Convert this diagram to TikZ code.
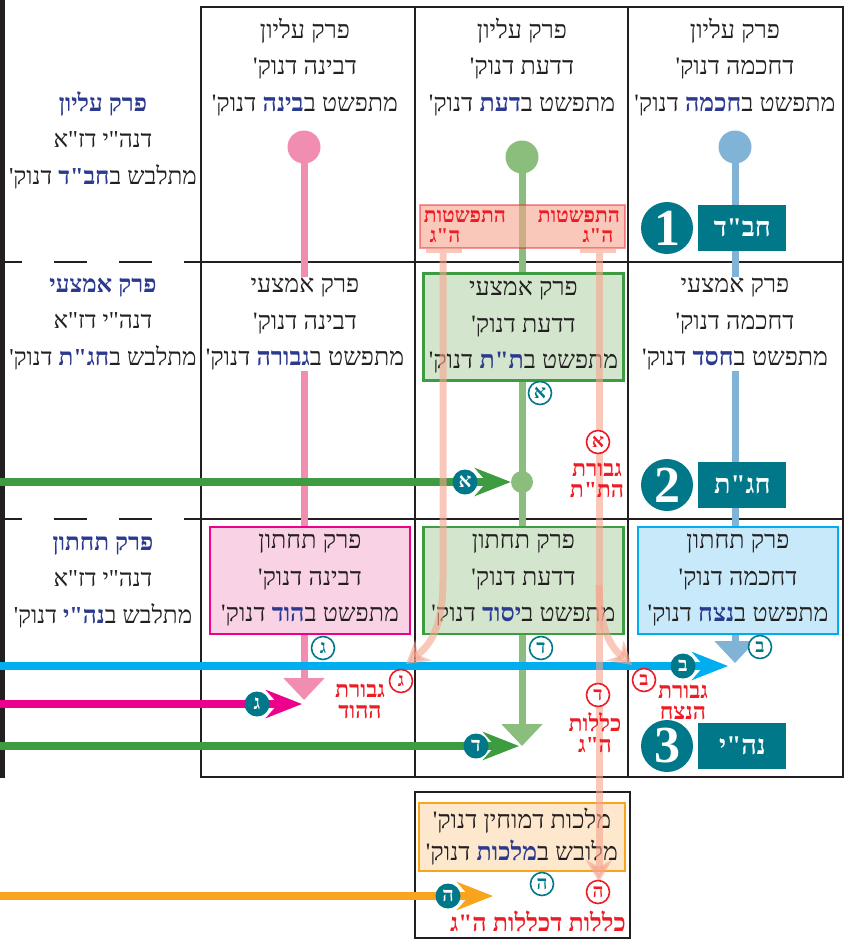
\documentclass[tikz,border=0pt]{standalone}
\usepackage{fontspec}
\usepackage{tikz}
\usetikzlibrary{arrows.meta,positioning}
\TeXXeTstate=1
\newfontfamily\hebfont[Script=Hebrew]{Liberation Serif}
\newfontfamily\hebblue[Script=Hebrew,Color=2B3A8E]{Liberation Serif}
\newcommand{\rl}[1]{{\beginR #1\endR}}
\newcommand{\blu}{\hebblue\bfseries}

\definecolor{gridc}{HTML}{231F20}
\definecolor{pinkl}{HTML}{F28DB2}
\definecolor{greenl}{HTML}{8BBE7C}
\definecolor{bluel}{HTML}{80B3D6}
\definecolor{greend}{HTML}{3D9C40}
\definecolor{cyanl}{HTML}{00AEEF}
\definecolor{magl}{HTML}{EC008C}
\definecolor{orangel}{HTML}{F8A51D}
\definecolor{tealc}{HTML}{00788A}
\definecolor{redt}{HTML}{ED1C24}
\definecolor{salmon}{HTML}{F6A48E}
\definecolor{pinkbox}{HTML}{F9D3E5}
\definecolor{greenbox}{HTML}{D3E5CD}
\definecolor{bluebox}{HTML}{C8E9F9}
\definecolor{orangebox}{HTML}{FDE8CE}

\tikzstyle{frame} = [draw=gridc, line width=2.5pt]
\tikzstyle{cell} = [font=\hebfont\fontsize{25}{36.5}\selectfont, align=center, inner sep=1pt, text=gridc]
\tikzstyle{zcell} = [cell, font=\hebfont\fontsize{24.3}{36.5}\selectfont]
\tikzstyle{cellw} = [cell, fill=white]
\tikzstyle{cellbox} = [cell, minimum width=200pt, minimum height=107pt, line width=2.5pt]
\tikzstyle{vline} = [line width=7pt, -{Triangle[length=22pt,width=40pt]}]
\tikzstyle{harrow} = [line width=8pt, -{Stealth[length=36pt,width=28pt,inset=12pt]}]
\tikzstyle{sline} = [draw=salmon, opacity=0.6, line width=7pt, -{Stealth[length=22pt,width=26pt,inset=7pt]}]
\tikzstyle{topdot} = [circle, minimum size=33pt, inner sep=0pt]
\tikzstyle{tealdot} = [circle, fill=tealc, text=white, minimum size=25pt, inner sep=0pt, font=\hebfont\bfseries\fontsize{20}{20}\selectfont]
\tikzstyle{tealring} = [circle, draw=tealc, line width=1.6pt, fill=white, text=tealc, minimum size=23pt, inner sep=0pt, font=\hebfont\bfseries\fontsize{19}{19}\selectfont]
\tikzstyle{redring} = [tealring, draw=redt, text=redt]
\tikzstyle{redlbl} = [text=redt, font=\hebfont\bfseries\fontsize{23}{21}\selectfont, align=center, inner sep=0pt]
\tikzstyle{bandlbl} = [redlbl, font=\hebfont\bfseries\fontsize{21}{21}\selectfont]
\tikzstyle{numdisc} = [circle, fill=tealc, text=white, minimum size=52pt, inner sep=0pt, font=\hebfont\bfseries\fontsize{52}{52}\selectfont]
\tikzstyle{numtag} = [fill=tealc, text=white, minimum width=88pt, minimum height=46pt, inner sep=0pt, font=\hebfont\bfseries\fontsize{27}{27}\selectfont]

\begin{document}
\begin{tikzpicture}[x=1pt, y=-1pt]
      \useasboundingbox (0,0) rectangle (851,940);

      \draw[frame] (201,7) rectangle (843,777);
      \draw[frame] (415,7) -- (415,777);
      \draw[frame] (628,7) -- (628,777);
      \draw[frame] (201,262) -- (843,262);
      \draw[frame] (201,519) -- (843,519);
      \draw[frame, dash pattern=on 33pt off 32pt, dash phase=11pt] (0,262) -- (201,262);
      \draw[frame, dash pattern=on 33pt off 32pt, dash phase=11pt] (0,519) -- (201,519);
      \draw[frame, line width=5pt] (2.5,0) -- (2.5,778);
      \draw[frame] (415,792) rectangle (630,938);

      \node (binaTop) [topdot, fill=pinkl] at (304,147) {};
      \node (daatTop) [topdot, fill=greenl] at (522,157) {};
      \node (chochTop) [topdot, fill=bluel] at (735,147) {};
      \coordinate (binaEnd) at (304,700);
      \coordinate (daatEnd) at (522,746);
      \coordinate (chochEnd) at (735,663);
      \draw[vline, draw=pinkl] (binaTop.center) -- (binaEnd);
      \draw[vline, draw=greenl] (daatTop.center) -- (daatEnd);
      \draw[vline, draw=bluel] (chochTop.center) -- (chochEnd);
      \node (daatMid) [circle, fill=greenl, minimum size=22pt, inner sep=0pt] at (522,482) {};

      \node (zaT) [zcell] at (103,140) {\rl{{\blu פרק עליון}}\\\rl{דנה"י דז"א}\\\rl{מתלבש ב{\blu חב"ד} דנוק'}};
      \node (zaM) [zcell] at (103,324) {\rl{{\blu פרק אמצעי}}\\\rl{דנה"י דז"א}\\\rl{מתלבש ב{\blu חג"ת} דנוק'}};
      \node (zaB) [zcell] at (103,582) {\rl{{\blu פרק תחתון}}\\\rl{דנה"י דז"א}\\\rl{מתלבש ב{\blu נה"י} דנוק'}};

      \node (binaT) [cell] at (305,67) {\rl{פרק עליון}\\\rl{דבינה דנוק'}\\\rl{מתפשט ב{\blu בינה} דנוק'}};
      \node (daatT) [cell] at (522,67) {\rl{פרק עליון}\\\rl{דדעת דנוק'}\\\rl{מתפשט ב{\blu דעת} דנוק'}};
      \node (chochT) [cell] at (735,67) {\rl{פרק עליון}\\\rl{דחכמה דנוק'}\\\rl{מתפשט ב{\blu חכמה} דנוק'}};

      \node (binaM) [cellw] at (305,324) {\rl{פרק אמצעי}\\\rl{דבינה דנוק'}\\\rl{מתפשט ב{\blu גבורה} דנוק'}};
      \node (daatM) [cellbox, fill=greenbox, draw=greend] at (523.5,327) {\rl{פרק אמצעי}\\\rl{דדעת דנוק'}\\\rl{מתפשט ב{\blu ת"ת} דנוק'}};
      \node (chochM) [cellw] at (735,324) {\rl{פרק אמצעי}\\\rl{דחכמה דנוק'}\\\rl{מתפשט ב{\blu חסד} דנוק'}};

      \node (binaB) [cellbox, fill=pinkbox, draw=magl] at (310,580.5) {\rl{פרק תחתון}\\\rl{דבינה דנוק'}\\\rl{מתפשט ב{\blu הוד} דנוק'}};
      \node (daatB) [cellbox, fill=greenbox, draw=greend] at (523.5,580.5) {\rl{פרק תחתון}\\\rl{דדעת דנוק'}\\\rl{מתפשט ב{\blu יסוד} דנוק'}};
      \node (chochB) [cellbox, fill=bluebox, draw=cyanl] at (738,580.5) {\rl{פרק תחתון}\\\rl{דחכמה דנוק'}\\\rl{מתפשט ב{\blu נצח} דנוק'}};

      \node (malch) [cellbox, fill=orangebox, draw=orangel, minimum width=206pt, minimum height=68pt, font=\hebfont\fontsize{25}{32}\selectfont] at (522,837) {\rl{מלכות דמוחין דנוק'}\\\rl{מלובש ב{\blu מלכות} דנוק'}};

      \coordinate (gStart) at (0,482);
      \coordinate (cStart) at (0,666);
      \coordinate (cEnd) at (728,666);
      \coordinate (mStart) at (0,704);
      \coordinate (mEnd) at (302,704);
      \coordinate (dStart) at (0,746);
      \coordinate (dEnd) at (519,746);
      \coordinate (oStart) at (0,896);
      \coordinate (oEnd) at (493,896);
      \draw[harrow, draw=greend] (gStart) -- (daatMid);
      \draw[harrow, draw=cyanl] (cStart) -- (cEnd);
      \draw[harrow, draw=magl] (mStart) -- (mEnd);
      \draw[harrow, draw=greend] (dStart) -- (dEnd);
      \draw[harrow, draw=orangel] (oStart) -- (oEnd);

      \node (band) [fill=salmon, fill opacity=0.6, draw=redt, draw opacity=0.45, line width=2pt, minimum width=205pt, minimum height=43pt, inner sep=0pt] at (522,226) {};
      \fill[salmon, opacity=0.6] (426,248) rectangle (462,253);
      \fill[salmon, opacity=0.6] (580,248) rectangle (616,253);
      \coordinate (sLtop) at (443,253);
      \coordinate (sRtop) at (599,253);
      \coordinate (sLend) at (406,664);
      \coordinate (sRend) at (599,882);
      \coordinate (sBend) at (632,665);
      \draw[sline] (sLtop) -- (443,580) .. controls (443,628) and (430,645) .. (sLend);
      \draw[sline] (sRtop) -- (sRend);
      \draw[sline] (599,585) .. controls (599,630) and (612,648) .. (sBend);

      \node (bandR1) [bandlbl] at (579,216) {\rl{התפשטות}};
      \node (bandR2) [bandlbl] at (598,236) {\rl{ה"ג}};
      \node (bandL1) [bandlbl] at (465,216) {\rl{התפשטות}};
      \node (bandL2) [bandlbl] at (445,236) {\rl{ה"ג}};

      \node (dotA) [tealdot] at (465,482) {א};
      \node (dotB) [tealdot] at (683,666) {ב};
      \node (dotG) [tealdot] at (257,704) {ג};
      \node (dotD) [tealdot] at (476,746) {ד};
      \node (dotH) [tealdot] at (448,896) {ה};

      \node (ringA) [tealring] at (540,393) {א};
      \node (ringG) [tealring] at (323,648) {ג};
      \node (ringD) [tealring] at (541,648) {ד};
      \node (ringB) [tealring] at (760,647) {ב};
      \node (ringH) [tealring] at (542,884) {ה};

      \node (redA) [redring] at (598,442) {א};
      \node (redG) [redring] at (401,681) {ג};
      \node (redB) [redring] at (644,680) {ב};
      \node (redD) [redring] at (598,695) {ד};
      \node (redH) [redring] at (598,892) {ה};

      \node (lblA) [redlbl] at (597,480) {\rl{גבורת}\\\rl{הת"ת}};
      \node (lblG) [redlbl] at (360,701) {\rl{גבורת}\\\rl{ההוד}};
      \node (lblB) [redlbl] at (683,702) {\rl{גבורת}\\\rl{הנצח}};
      \node (lblD) [redlbl] at (595,733) {\rl{כללות}\\\rl{ה"ג}};
      \node (lblH) [redlbl, font=\hebfont\bfseries\fontsize{25}{25}\selectfont] at (538,921) {\rl{כללות דכללות ה"ג}};

      \node (num1) [numdisc] at (667,228) {1};
      \node (num2) [numdisc] at (667,485) {2};
      \node (num3) [numdisc] at (667,746) {3};
      \node (tag1) [numtag, right=5pt of num1] {\rl{חב"ד}};
      \node (tag2) [numtag, right=5pt of num2] {\rl{חג"ת}};
      \node (tag3) [numtag, right=5pt of num3] {\rl{נה"י}};
\end{tikzpicture}
\end{document}
